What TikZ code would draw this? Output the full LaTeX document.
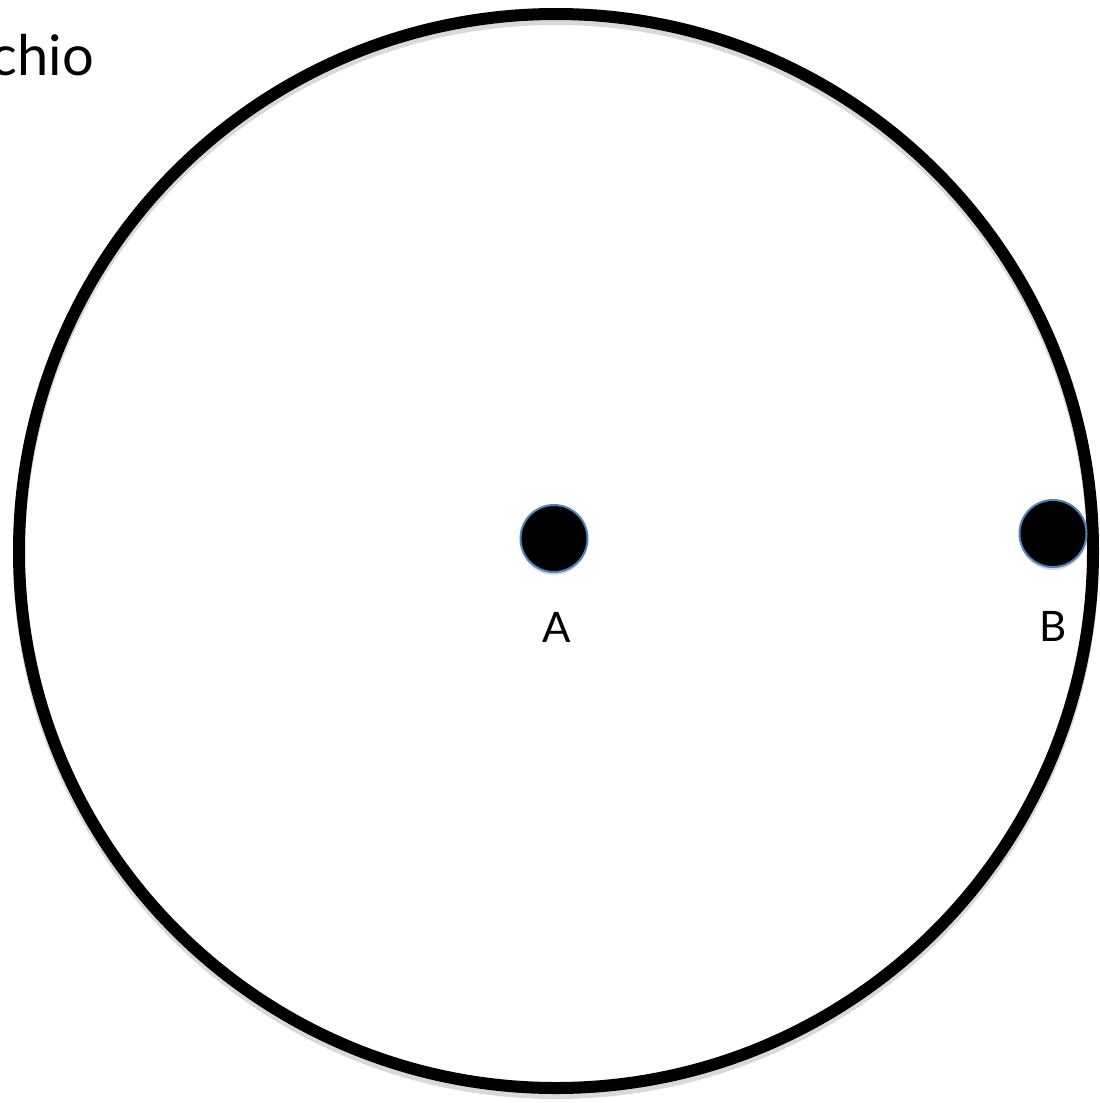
\documentclass[tikz,border=0pt]{standalone}
\usepackage{fontspec}
\setmainfont{Lato}
\usepackage{xcolor}
\usetikzlibrary{shadows}
\definecolor{dotrim}{RGB}{79,129,189}

\begin{document}
\begin{tikzpicture}[
      x=1pt, y=-1pt,
      ring/.style={
        draw,
        circle,
        line width=12pt,
        minimum size=1074pt,
        inner sep=0pt,
        preaction={draw=black, draw opacity=0.15, line width=12pt,
          transform canvas={yshift=-5pt}}
      },
      point/.style={
        circle,
        fill=black,
        draw=dotrim,
        line width=2pt,
        minimum size=67pt,
        inner sep=0pt,
        drop shadow={opacity=0.3, shadow xshift=0pt, shadow yshift=-3pt}
      },
      lbl/.style={font=\fontsize{42}{50}\selectfont, inner sep=0pt, anchor=base}
    ]
    \useasboundingbox (0,0) rectangle (1100,1103);
    % Place nodes
    \node [ring] (disk) at (556,551) {};
    \node [point] (dotA) at (554,538.5) {};
    \node [point] (dotB) at (1053,533.5) {};
    \node [lbl] (labA) at (557,642) {A};
    \node [lbl] (labB) at (1053,641) {B};

    % Cut-off title text
    \node [font=\fontsize{56}{64}\selectfont, inner sep=0pt, anchor=base east] (title) at (94,75) {chio};
  \end{tikzpicture}
\end{document}
